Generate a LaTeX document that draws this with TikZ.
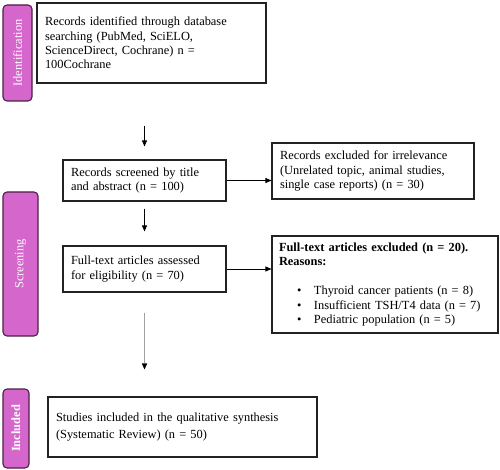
\documentclass[tikz,border=0pt]{standalone}
\usepackage{fontspec}
\setmainfont{Liberation Serif}
\usetikzlibrary{arrows.meta}
\definecolor{labfill}{HTML}{D466CC}
\definecolor{labdraw}{HTML}{4B2045}
\definecolor{boxdraw}{HTML}{222222}
\definecolor{grayarr}{HTML}{A0A0A0}
\begin{document}
\begin{tikzpicture}[x=1pt,y=-1pt,
  every node/.style={font=\fontsize{12.4}{14.4}\selectfont},
  box/.style={draw=boxdraw,line width=1.1pt,fill=white,rectangle,align=left,inner xsep=8pt,inner ysep=0pt,anchor=center},
  phase/.style={draw=labdraw,line width=1.1pt,fill=labfill,rounded corners=4pt,rotate=90,text=white,inner sep=0pt,anchor=center},
  arr/.style={draw=black,line width=0.8pt,-{Triangle[width=5pt,length=6pt]}}
]
\useasboundingbox (0,0) rectangle (500,470);
% phase labels
\node[phase,minimum width=96pt,minimum height=29pt] (labId) at (17.5,53) {Identification};
\node[phase,minimum width=144pt,minimum height=35pt] (labScr) at (20.5,264) {Screening};
\node[phase,minimum width=79pt,minimum height=26pt] (labInc) at (16,428.5) {\textbf{Included}};
% boxes
\node[box,minimum width=229pt,minimum height=80pt,text width=213pt] (id1) at (151.5,43)
  {Records identified through database\\searching (PubMed, SciELO,\\ScienceDirect, Cochrane) n =\\100Cochrane};
\node[box,minimum width=163pt,minimum height=41pt,text width=147pt] (scr) at (144.5,180.5)
  {Records screened by title\\and abstract (n = 100)};
\node[box,minimum width=202pt,minimum height=56pt,text width=186pt] (exc1) at (373,171)
  {Records excluded for irrelevance\\(Unrelated topic, animal studies,\\single case reports) (n = 30)};
\node[box,minimum width=163pt,minimum height=46pt,text width=147pt] (full) at (144.5,269)
  {Full-text articles assessed\\for eligibility (n = 70)};
\node[box,minimum width=226pt,minimum height=97pt,text width=212pt,inner xsep=7pt] (exc2) at (385,284.5)
  {\textbf{Full-text articles excluded (n = 20).}\\\textbf{Reasons:}\\[15pt]
   \hspace*{18pt}\makebox[17pt][l]{\textbullet}Thyroid cancer patients (n = 8)\\
   \hspace*{18pt}\makebox[17pt][l]{\textbullet}Insufficient TSH/T4 data (n = 7)\\
   \hspace*{18pt}\makebox[17pt][l]{\textbullet}Pediatric population (n = 5)};
\node[box,minimum width=269pt,minimum height=60pt,text width=253pt,font=\fontsize{12.4}{16.5}\selectfont] (incl) at (182.5,427)
  {Studies included in the qualitative synthesis\\(Systematic Review) (n = 50)};
% connectors
\draw[arr,shorten <=42pt,shorten >=13pt] (id1.south -| scr.north) -- (scr.north);
\draw[arr] (scr.east) -- (exc1.west |- scr.east);
\draw[arr,shorten <=7pt,shorten >=14pt] (scr.south) -- (full.north);
\draw[arr] (full.east) -- (exc2.west |- full.east);
\draw[arr,draw=grayarr,line width=1.2pt,-{Triangle[width=5.5pt,length=6pt,fill=black,line width=0pt]},shorten <=20pt,shorten >=27pt] (full.south) -- (full.south |- incl.north);
\end{tikzpicture}
\end{document}
